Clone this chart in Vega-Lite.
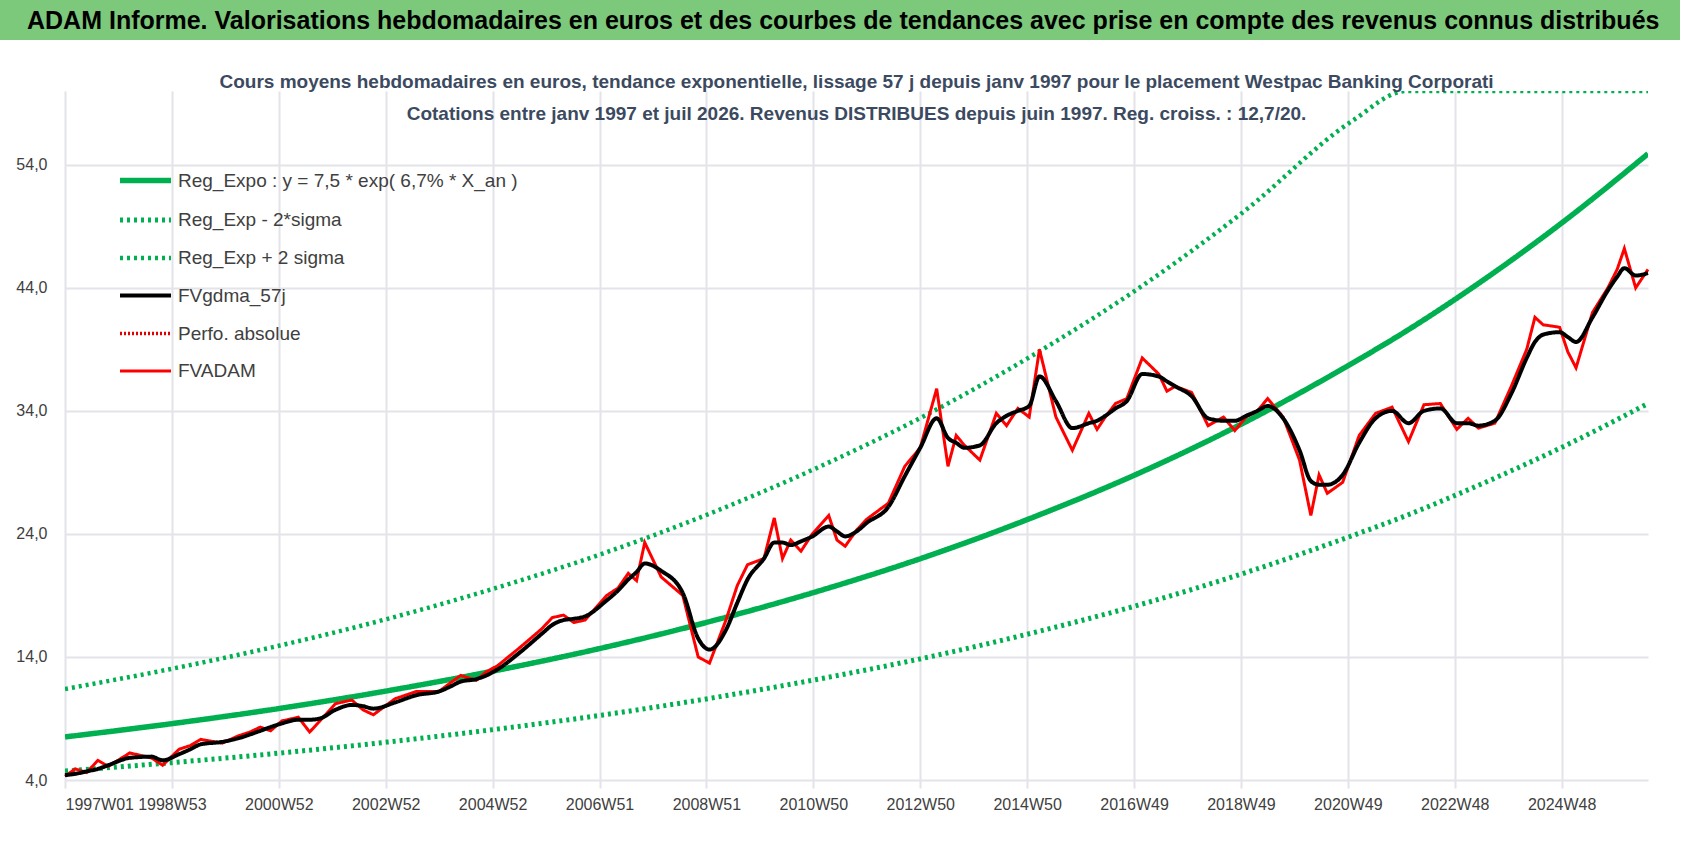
{
  "$schema": "https://vega.github.io/schema/vega-lite/v6.json",
  "padding": 0,
  "background": "white",
  "spacing": 33,
  "config": {"font": "Liberation Sans", "view": {"stroke": null}},
  "datasets": {
    "reg": [
      {"w": 0, "a": 7.5, "b": 4.73, "c": 11.4},
      {"w": 104, "a": 8.58, "b": 5.41, "c": 13.04},
      {"w": 209, "a": 9.82, "b": 6.19, "c": 14.93},
      {"w": 313, "a": 11.24, "b": 7.08, "c": 17.08},
      {"w": 417, "a": 12.86, "b": 8.1, "c": 19.55},
      {"w": 522, "a": 14.72, "b": 9.27, "c": 22.37},
      {"w": 626, "a": 16.85, "b": 10.62, "c": 25.61},
      {"w": 730, "a": 19.28, "b": 12.15, "c": 29.31},
      {"w": 835, "a": 22.07, "b": 13.9, "c": 33.55},
      {"w": 939, "a": 25.26, "b": 15.91, "c": 38.4},
      {"w": 1044, "a": 28.91, "b": 18.21, "c": 43.94},
      {"w": 1148, "a": 33.08, "b": 20.84, "c": 50.28},
      {"w": 1252, "a": 37.86, "b": 23.85, "c": 57.55},
      {"w": 1305, "a": 40.5, "b": 25.5, "c": 61.6},
      {"w": 1357, "a": 43.33, "b": 27.3, "c": 65.9},
      {"w": 1461, "a": 49.59, "b": 31.24, "c": 75.4},
      {"w": 1540, "a": 54.9, "b": 34.6, "c": 83.4}
    ],
    "px": [
      {"w": 0, "f": 4.3, "d": 4.4}, {"w": 10, "f": 4.9, "d": 4.5}, {"w": 21, "f": 4.6, "d": 4.7}, {"w": 32, "f": 5.6, "d": 4.9}, {"w": 42, "f": 5.1, "d": 5.2},
      {"w": 63, "f": 6.2, "d": 5.8}, {"w": 84, "f": 5.8, "d": 5.9}, {"w": 95, "f": 5.2, "d": 5.6},
      {"w": 111, "f": 6.5, "d": 6.1}, {"w": 122, "f": 6.8, "d": 6.5}, {"w": 132, "f": 7.3, "d": 6.9}, {"w": 153, "f": 7.0, "d": 7.1},
      {"w": 169, "f": 7.6, "d": 7.4}, {"w": 180, "f": 7.9, "d": 7.7}, {"w": 190, "f": 8.3, "d": 8.0}, {"w": 200, "f": 8.0, "d": 8.3}, {"w": 211, "f": 8.8, "d": 8.6},
      {"w": 227, "f": 9.1, "d": 8.9}, {"w": 238, "f": 7.9, "d": 8.9}, {"w": 248, "f": 8.8, "d": 9.0}, {"w": 263, "f": 10.2, "d": 9.7},
      {"w": 279, "f": 10.5, "d": 10.1}, {"w": 290, "f": 9.7, "d": 10.0}, {"w": 300, "f": 9.3, "d": 9.8}, {"w": 321, "f": 10.6, "d": 10.3},
      {"w": 342, "f": 11.2, "d": 10.9}, {"w": 364, "f": 11.2, "d": 11.2}, {"w": 375, "f": 11.9, "d": 11.6}, {"w": 385, "f": 12.5, "d": 12.0},
      {"w": 400, "f": 12.1, "d": 12.2}, {"w": 410, "f": 12.8, "d": 12.5}, {"w": 421, "f": 13.3, "d": 13.0}, {"w": 443, "f": 14.8, "d": 14.4},
      {"w": 464, "f": 16.3, "d": 15.9}, {"w": 474, "f": 17.2, "d": 16.6}, {"w": 485, "f": 17.4, "d": 17.0}, {"w": 495, "f": 16.8, "d": 17.1}, {"w": 506, "f": 17.0, "d": 17.3},
      {"w": 527, "f": 19.0, "d": 18.6}, {"w": 538, "f": 19.6, "d": 19.4}, {"w": 548, "f": 20.8, "d": 20.3}, {"w": 556, "f": 20.2, "d": 20.9}, {"w": 564, "f": 23.3, "d": 21.6},
      {"w": 580, "f": 20.5, "d": 21.0}, {"w": 601, "f": 19.0, "d": 19.2}, {"w": 616, "f": 14.0, "d": 15.5},
      {"w": 627, "f": 13.5, "d": 14.6}, {"w": 643, "f": 17.0, "d": 16.2}, {"w": 654, "f": 19.8, "d": 18.4}, {"w": 664, "f": 21.5, "d": 20.3},
      {"w": 680, "f": 22.0, "d": 22.0}, {"w": 690, "f": 25.3, "d": 23.3}, {"w": 698, "f": 22.0, "d": 23.3}, {"w": 706, "f": 23.5, "d": 23.1},
      {"w": 716, "f": 22.6, "d": 23.4}, {"w": 727, "f": 24.0, "d": 23.8}, {"w": 743, "f": 25.5, "d": 24.6}, {"w": 751, "f": 23.5, "d": 24.2}, {"w": 759, "f": 23.0, "d": 23.8},
      {"w": 770, "f": 24.3, "d": 24.2}, {"w": 780, "f": 25.2, "d": 24.9}, {"w": 801, "f": 26.5, "d": 26.2}, {"w": 817, "f": 29.5, "d": 28.7},
      {"w": 832, "f": 31.0, "d": 31.0}, {"w": 848, "f": 35.8, "d": 33.4}, {"w": 859, "f": 29.5, "d": 31.8},
      {"w": 867, "f": 32.0, "d": 31.4}, {"w": 875, "f": 31.2, "d": 31.0}, {"w": 890, "f": 30.0, "d": 31.2}, {"w": 906, "f": 33.8, "d": 33.0},
      {"w": 916, "f": 32.8, "d": 33.6}, {"w": 927, "f": 34.2, "d": 34.0}, {"w": 938, "f": 33.5, "d": 34.4}, {"w": 948, "f": 39.0, "d": 36.8},
      {"w": 964, "f": 33.5, "d": 34.8}, {"w": 980, "f": 30.8, "d": 32.6}, {"w": 996, "f": 33.8, "d": 33.0},
      {"w": 1004, "f": 32.5, "d": 33.2}, {"w": 1012, "f": 33.5, "d": 33.6}, {"w": 1022, "f": 34.6, "d": 34.2}, {"w": 1033, "f": 35.0, "d": 34.8}, {"w": 1048, "f": 38.3, "d": 37.0},
      {"w": 1064, "f": 37.0, "d": 36.8}, {"w": 1072, "f": 35.6, "d": 36.4}, {"w": 1080, "f": 36.0, "d": 36.0}, {"w": 1096, "f": 35.5, "d": 35.2},
      {"w": 1112, "f": 32.8, "d": 33.4}, {"w": 1127, "f": 33.5, "d": 33.2}, {"w": 1138, "f": 32.4, "d": 33.2}, {"w": 1149, "f": 33.5, "d": 33.6},
      {"w": 1160, "f": 34.0, "d": 34.0}, {"w": 1170, "f": 35.0, "d": 34.4}, {"w": 1185, "f": 33.5, "d": 33.4}, {"w": 1201, "f": 30.0, "d": 30.8},
      {"w": 1212, "f": 25.5, "d": 28.3}, {"w": 1220, "f": 28.8, "d": 28.0}, {"w": 1228, "f": 27.3, "d": 28.0}, {"w": 1243, "f": 28.2, "d": 28.8},
      {"w": 1259, "f": 32.0, "d": 31.4}, {"w": 1275, "f": 33.8, "d": 33.4}, {"w": 1291, "f": 34.3, "d": 34.0},
      {"w": 1307, "f": 31.5, "d": 33.0}, {"w": 1322, "f": 34.5, "d": 34.0}, {"w": 1338, "f": 34.6, "d": 34.2},
      {"w": 1354, "f": 32.5, "d": 33.0}, {"w": 1365, "f": 33.4, "d": 33.0}, {"w": 1375, "f": 32.6, "d": 32.8}, {"w": 1391, "f": 33.0, "d": 33.2},
      {"w": 1407, "f": 36.0, "d": 35.4}, {"w": 1422, "f": 39.0, "d": 38.3}, {"w": 1430, "f": 41.6, "d": 39.6}, {"w": 1438, "f": 41.0, "d": 40.2},
      {"w": 1454, "f": 40.8, "d": 40.4}, {"w": 1462, "f": 38.8, "d": 40.0}, {"w": 1470, "f": 37.5, "d": 39.6}, {"w": 1486, "f": 42.0, "d": 41.6},
      {"w": 1501, "f": 44.0, "d": 43.8}, {"w": 1510, "f": 45.5, "d": 44.9}, {"w": 1517, "f": 47.2, "d": 45.6}, {"w": 1528, "f": 44.0, "d": 45.0},
      {"w": 1540, "f": 45.5, "d": 45.2}
    ]
  },
  "vconcat": [
    {
      "width": 1615,
      "height": 40,
      "title": {
        "text": "ADAM Informe. Valorisations hebdomadaires en euros et des courbes de tendances avec prise en compte des revenus connus distribués",
        "anchor": "start", "frame": "group", "offset": -34, "dx": -38,
        "fontSize": 25, "fontWeight": "bold", "color": "#000000"
      },
      "data": {"values": [{"x0": 0, "x1": 1, "y0": 0, "y1": 1}]},
      "mark": {"type": "rect", "fill": "#7dc97b", "clip": false},
      "encoding": {
        "x": {"field": "x0", "type": "quantitative", "scale": {"domain": [0, 1], "range": [-65, 1615]}, "axis": null},
        "x2": {"field": "x1"},
        "y": {"field": "y0", "type": "quantitative", "scale": {"domain": [0, 1]}, "axis": null},
        "y2": {"field": "y1"}
      }
    },
    {
      "width": 1583,
      "height": 689,
      "title": {
        "text": [
          "Cours moyens hebdomadaires en euros, tendance exponentielle, lissage 57 j depuis janv 1997  pour le placement Westpac Banking Corporati",
          "Cotations entre janv 1997 et juil 2026. Revenus DISTRIBUES depuis juin 1997. Reg. croiss. : 12,7/20."
        ],
        "anchor": "middle", "offset": -33, "lineHeight": 32,
        "fontSize": 19, "fontWeight": "bold", "color": "#3b4a60"
      },
      "encoding": {
        "x": {
          "field": "w", "type": "quantitative",
          "scale": {"domain": [0, 1540], "nice": false, "zero": false},
          "axis": {
            "title": null, "values": [0,104,208,312,416,520,624,728,832,936,1040,1144,1248,1352,1456],
            "labelExpr": "['1997W01','1998W53','2000W52','2002W52','2004W52','2006W51','2008W51','2010W50','2012W50','2014W50','2016W49','2018W49','2020W49','2022W48','2024W48'][round(datum.value/104)]",
            "grid": true, "gridColor": "#e3e3ea", "gridWidth": 2, "domain": false,
            "tickColor": "#e3e3ea", "tickSize": 8, "tickWidth": 2,
            "labelFontSize": 16, "labelColor": "#404040", "labelPadding": 8
          }
        },
        "y": {
          "field": "v", "type": "quantitative",
          "scale": {"domain": [4, 60], "nice": false, "zero": false, "clamp": true},
          "axis": {
            "title": null, "values": [4,14,24,34,44,54],
            "labelExpr": "replace(format(datum.value, '.1f'), '.', ',')",
            "grid": true, "gridColor": "#e3e3ea", "gridWidth": 2, "domain": false, "ticks": false,
            "labelFontSize": 16, "labelColor": "#404040", "labelPadding": 18, "minExtent": 65
          }
        },
        "color": {
          "field": "s", "type": "nominal",
          "scale": {"domain": ["a","b","c","d","e","f"], "range": ["#00b050","#00b050","#00b050","#000000","#e00000","#ff0000"]},
          "legend": {
            "title": null, "orient": "none", "legendX": 52, "legendY": 152,
            "symbolType": "stroke", "symbolSize": 2600, "symbolStrokeWidth": 4,
            "labelFontSize": 19, "labelColor": "#404040", "labelLimit": 600, "rowPadding": 0,
            "labelExpr": "{'a':'Reg_Expo : y = 7,5 * exp( 6,7% *  X_an )','b':'Reg_Exp - 2*sigma','c':'Reg_Exp + 2 sigma','d':'FVgdma_57j','e':'Perfo. absolue','f':'FVADAM'}[datum.value]"
          }
        },
        "strokeDash": {
          "field": "s", "type": "nominal",
          "scale": {"domain": ["a","b","c","d","e","f"], "range": [[1,0],[3,4],[3,4],[1,0],[2,2],[1,0]]},
          "legend": null
        },
        "strokeWidth": {
          "field": "s", "type": "nominal",
          "scale": {"domain": ["a","b","c","d","e","f"], "range": [5.5,3,3,2.5,2,4]},
          "legend": null
        }
      },
      "layer": [
        {
          "data": {"name": "reg"},
          "transform": [{"fold": ["b", "c", "a"], "as": ["s", "v"]}],
          "mark": {"type": "line", "interpolate": "monotone", "clip": true}
        },
        {
          "data": {"name": "px"},
          "transform": [{"fold": ["f"], "as": ["s", "v"]}],
          "mark": {"type": "line"}
        },
        {
          "data": {"name": "px"},
          "transform": [{"fold": ["d"], "as": ["s", "v"]}],
          "mark": {"type": "line", "interpolate": "monotone"}
        }
      ]
    }
  ]
}
